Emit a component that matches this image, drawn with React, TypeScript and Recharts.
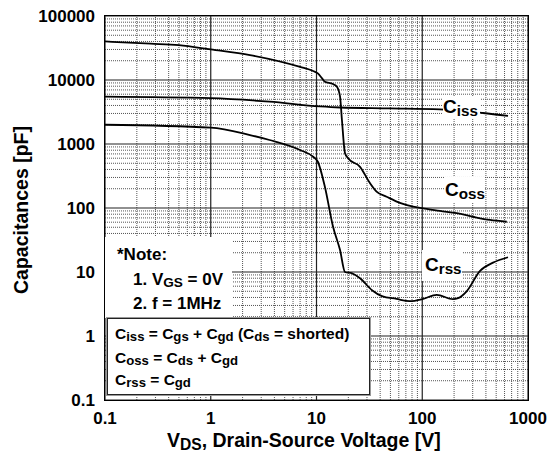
import React from "react";
import { LineChart, Line, XAxis, YAxis, ReferenceLine } from "recharts";

// values (V, pF)
const cossVoltage = [0.1, 0.27, 0.5, 1, 2.35, 7, 9.3, 10.3, 11.3, 12, 14.3, 15.6, 16.7, 17.4, 18.6, 19.9, 25.8, 32, 37, 46, 61.5, 82, 102, 147, 212, 302, 437, 630];
const cossPf = [40000, 37000, 35000, 30000, 24500, 16000, 13800, 12700, 10600, 9400, 8660, 7850, 5500, 2370, 720, 600, 440, 245, 180, 150, 120, 105, 99, 90, 83, 73, 65, 61];

const cissVoltage = [0.1, 1, 3.6, 10.8, 16.7, 50, 147, 375, 647];
const cissPf = [5500, 5200, 4580, 3860, 3720, 3610, 3480, 3050, 2740];

const crssVoltage = [0.1, 1, 2.35, 3.6, 7, 9.3, 10.3, 12, 14.3, 16.7, 18.6, 21.7, 25.8, 33.5, 41.6, 57, 76, 102, 137, 195, 218, 263, 352, 467, 647];
const crssPf = [2000, 1800, 1380, 1155, 806, 632, 528, 215, 52, 22, 10, 9.5, 8, 5.2, 4.2, 3.8, 3.5, 3.8, 4.4, 3.76, 3.9, 5.0, 10.4, 14, 17];

const xTicks = [0.1, 1, 10, 100, 1000];
const yTicks = [0.1, 1, 10, 100, 1000, 10000, 100000];
const minorSteps = [2, 3, 4, 5, 6, 7, 8, 9];

const toPoints = (v: number[], c: number[]) => v.map((x, i) => ({ v: x, c: c[i] }));
const coss = toPoints(cossVoltage, cossPf);
const ciss = toPoints(cissVoltage, cissPf);
const crss = toPoints(crssVoltage, crssPf);

const xMinor = xTicks.slice(0, -1).flatMap((d) => minorSteps.map((m) => +(d * m).toPrecision(3)));
const yMinor = yTicks.slice(0, -1).flatMap((d) => minorSteps.map((m) => +(d * m).toPrecision(3)));

const font = "'Liberation Sans', Arial, Helvetica, sans-serif";
const sub = { fontSize: "0.8em", verticalAlign: "-0.18em" } as React.CSSProperties;
const subBox = { fontSize: "0.85em", verticalAlign: "-0.12em" } as React.CSSProperties;

const abs = (s: React.CSSProperties): React.CSSProperties => ({
  position: "absolute",
  fontWeight: "bold",
  lineHeight: 1,
  whiteSpace: "nowrap",
  color: "#000",
  ...s,
});

export default function App() {
  return (
    <div style={{ position: "absolute", left: 0, top: 0, width: 551, height: 455, background: "#fff", fontFamily: font }}>
      <LineChart width={551} height={455} margin={{ top: 16, right: 23, bottom: 0, left: 0 }}>
        <XAxis
          dataKey="v"
          type="number"
          scale="log"
          domain={[0.1, 1000]}
          allowDataOverflow
          ticks={xTicks}
          tickFormatter={(v) => String(v)}
          tickLine={false}
          axisLine={false}
          tickMargin={6}
          height={55}
          tick={{ fontSize: 17, fontWeight: "bold", fill: "#000", fontFamily: font }}
        />
        <YAxis
          type="number"
          scale="log"
          domain={[0.1, 100000]}
          allowDataOverflow
          ticks={yTicks}
          tickFormatter={(v) => String(v)}
          tickLine={false}
          axisLine={false}
          tickMargin={4}
          width={105}
          tick={{ fontSize: 17, fontWeight: "bold", fill: "#000", fontFamily: font }}
        />
        {xMinor.map((v) => (
          <ReferenceLine key={"xm" + v} x={v} stroke="#555" strokeDasharray="1 1" />
        ))}
        {yMinor.map((v) => (
          <ReferenceLine key={"ym" + v} y={v} stroke="#555" strokeDasharray="1 1" />
        ))}
        {xTicks.map((v) => (
          <ReferenceLine key={"xM" + v} x={v} stroke="#222" strokeWidth={1.2} />
        ))}
        {yTicks.map((v) => (
          <ReferenceLine key={"yM" + v} y={v} stroke="#222" strokeWidth={1.2} />
        ))}
        <Line data={coss} dataKey="c" type="monotone" stroke="#000" strokeWidth={1.8} dot={false} isAnimationActive={false} />
        <Line data={ciss} dataKey="c" type="monotone" stroke="#000" strokeWidth={1.8} dot={false} isAnimationActive={false} />
        <Line data={crss} dataKey="c" type="monotone" stroke="#000" strokeWidth={1.8} dot={false} isAnimationActive={false} />
      </LineChart>

      {/* plot frame */}
      <div style={{ position: "absolute", left: 104, top: 15, width: 423, height: 384, border: "1px solid #000" }} />

      {/* curve labels */}
      <div style={abs({ left: 443, top: 96, width: 37, height: 21, background: "#fff", fontSize: 19, paddingTop: 1 })}>
        C<span style={sub}>iss</span>
      </div>
      <div style={abs({ left: 445, top: 177, width: 40, height: 23, background: "#fff", fontSize: 19, paddingTop: 3 })}>
        C<span style={sub}>oss</span>
      </div>
      <div style={abs({ left: 422, top: 250, width: 37, height: 26, background: "#fff", fontSize: 19, paddingTop: 5, paddingLeft: 3 })}>
        C<span style={sub}>rss</span>
      </div>

      {/* note */}
      <div style={abs({ left: 105, top: 237, width: 127, height: 81, background: "#fff" })} />
      <div style={abs({ left: 117, top: 246, fontSize: 17 })}>*Note:</div>
      <div style={abs({ left: 133, top: 271, fontSize: 17 })}>
        1. V<span style={sub}>GS</span> = 0V
      </div>
      <div style={abs({ left: 133, top: 295, fontSize: 17 })}>2. f = 1MHz</div>

      {/* formula box */}
      <div
        style={abs({
          left: 107,
          top: 318,
          width: 261,
          height: 75,
          background: "#fff",
          border: "1px solid #222",
          outline: "1px solid #999",
          fontSize: 15.5,
        })}
      >
        <div style={{ position: "absolute", left: 7, top: 7 }}>
          C<span style={subBox}>iss</span> = C<span style={subBox}>gs</span> + C<span style={subBox}>gd</span> (C<span style={subBox}>ds</span> = shorted)
        </div>
        <div style={{ position: "absolute", left: 7, top: 31 }}>
          C<span style={subBox}>oss</span> = C<span style={subBox}>ds</span> + C<span style={subBox}>gd</span>
        </div>
        <div style={{ position: "absolute", left: 7, top: 53 }}>
          C<span style={subBox}>rss</span> = C<span style={subBox}>gd</span>
        </div>
      </div>

      {/* axis titles */}
      <div style={abs({ left: 167, top: 431, fontSize: 19.5 })}>
        V<span style={sub}>DS</span>, Drain-Source Voltage [V]
      </div>
      <div
        style={abs({
          left: 22,
          top: 210,
          fontSize: 19.5,
          transform: "translate(-50%, -50%) rotate(-90deg)",
        })}
      >
        Capacitances [pF]
      </div>
    </div>
  );
}
